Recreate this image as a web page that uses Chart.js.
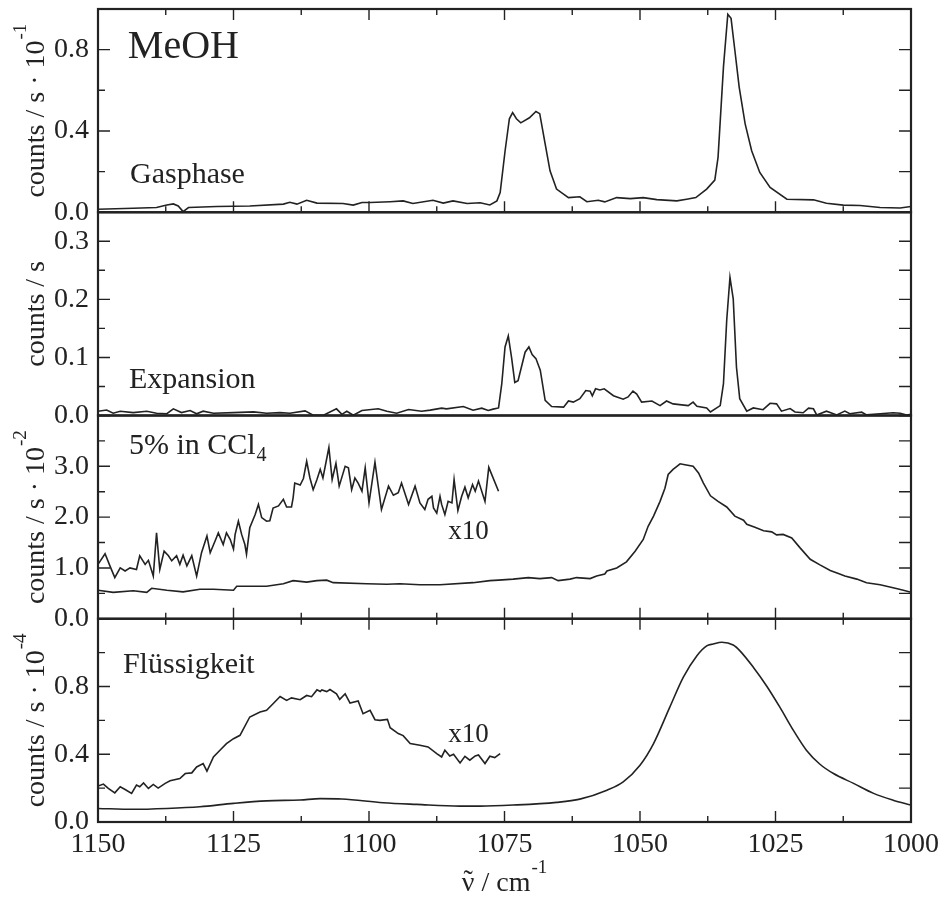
<!DOCTYPE html>
<html>
<head>
<meta charset="utf-8">
<title>MeOH spectra</title>
<script src="https://cdn.jsdelivr.net/npm/chart.js@4.4.0/dist/chart.umd.min.js"></script>
<style>
  html, body { margin: 0; padding: 0; background: #fff; }
  #wrap { width: 945px; height: 899px; }
</style>
</head>
<body>
<div id="wrap"><canvas id="spectra" width="945" height="899"></canvas></div>
<script>
// wavenumber (cm-1), signal in the units of each panel
const gasphase = [
  [1150.0, 0.015], [1143.5, 0.020], [1139.2, 0.023], [1137.3, 0.036], [1136.1, 0.041], [1135.2, 0.031],
  [1134.3, 0.003], [1133.3, 0.023], [1128.1, 0.028], [1122.0, 0.031], [1115.8, 0.040], [1114.6, 0.049],
  [1113.3, 0.040], [1111.5, 0.059], [1109.6, 0.045], [1104.8, 0.043], [1102.9, 0.035], [1101.3, 0.048],
  [1099.8, 0.048], [1096.1, 0.052], [1093.7, 0.056], [1091.9, 0.043], [1088.2, 0.059], [1086.3, 0.045],
  [1084.5, 0.056], [1081.9, 0.043], [1079.5, 0.047], [1077.7, 0.036], [1076.4, 0.056], [1075.8, 0.097],
  [1074.9, 0.300], [1074.1, 0.460], [1073.5, 0.490], [1072.8, 0.460], [1072.0, 0.440], [1070.4, 0.465],
  [1069.2, 0.496], [1068.5, 0.485], [1067.5, 0.336], [1066.6, 0.204], [1065.4, 0.114], [1063.2, 0.072],
  [1061.1, 0.076], [1059.8, 0.052], [1057.7, 0.059], [1056.5, 0.051], [1054.3, 0.072], [1051.8, 0.067],
  [1049.4, 0.072], [1046.9, 0.062], [1043.2, 0.056], [1041.4, 0.064], [1039.7, 0.072], [1037.7, 0.114],
  [1036.2, 0.158], [1035.6, 0.270], [1034.6, 0.715], [1033.8, 0.974], [1033.2, 0.954], [1032.5, 0.797],
  [1031.7, 0.616], [1030.6, 0.435], [1029.4, 0.303], [1027.9, 0.196], [1026.0, 0.122], [1022.9, 0.064],
  [1018.0, 0.061], [1015.6, 0.044], [1012.5, 0.035], [1009.4, 0.033], [1005.7, 0.023], [1002.0, 0.021],
  [1000.0, 0.028]
];

const expansion = [
  [1150.0, 0.0074], [1148.4, 0.0095], [1147.2, 0.0040], [1145.9, 0.0074], [1143.5, 0.0050], [1141.0, 0.0074],
  [1139.2, 0.0040], [1137.3, 0.0030], [1136.1, 0.0115], [1134.6, 0.0050], [1133.0, 0.0086], [1131.8, 0.0030],
  [1130.6, 0.0074], [1128.7, 0.0040], [1125.0, 0.0050], [1121.3, 0.0063], [1118.9, 0.0040], [1116.4, 0.0050],
  [1114.6, 0.0040], [1111.8, 0.0080], [1110.3, 0.0005], [1108.4, 0.0005], [1106.0, 0.0115], [1105.0, 0.0020],
  [1104.1, 0.0074], [1102.9, 0.0005], [1101.3, 0.0086], [1098.3, 0.0115], [1096.7, 0.0074], [1094.9, 0.0040],
  [1092.7, 0.0103], [1090.3, 0.0074], [1088.7, 0.0092], [1086.6, 0.0126], [1085.7, 0.0115], [1082.6, 0.0155],
  [1080.8, 0.0092], [1079.2, 0.0126], [1078.0, 0.0086], [1077.1, 0.0110], [1076.1, 0.0130], [1075.5, 0.055],
  [1074.9, 0.118], [1074.3, 0.137], [1073.7, 0.100], [1073.1, 0.057], [1072.5, 0.060], [1071.2, 0.109],
  [1070.5, 0.118], [1069.9, 0.105], [1069.2, 0.098], [1068.4, 0.078], [1067.5, 0.026], [1066.3, 0.0155],
  [1064.1, 0.0144], [1063.2, 0.025], [1062.3, 0.023], [1061.1, 0.029], [1060.0, 0.043], [1059.2, 0.042],
  [1058.8, 0.034], [1058.2, 0.046], [1057.4, 0.044], [1056.6, 0.046], [1054.9, 0.034], [1053.1, 0.028],
  [1052.2, 0.032], [1051.3, 0.042], [1050.6, 0.037], [1049.7, 0.023], [1047.8, 0.025], [1046.3, 0.017],
  [1045.1, 0.025], [1043.9, 0.020], [1041.1, 0.017], [1040.2, 0.023], [1039.5, 0.016], [1037.7, 0.013],
  [1037.0, 0.006], [1035.2, 0.017], [1034.6, 0.055], [1034.0, 0.164], [1033.4, 0.238], [1032.8, 0.201],
  [1032.2, 0.083], [1031.6, 0.029], [1030.3, 0.0075], [1029.1, 0.013], [1027.3, 0.010], [1026.0, 0.021],
  [1024.8, 0.020], [1023.9, 0.0075], [1022.3, 0.012], [1021.4, 0.006], [1019.9, 0.0047], [1018.9, 0.0126],
  [1018.0, 0.0115], [1017.4, 0.001], [1015.6, 0.0075], [1013.7, 0.001], [1012.2, 0.0075], [1011.3, 0.003],
  [1009.1, 0.0057], [1008.2, 0.001], [1005.7, 0.003], [1003.3, 0.0047], [1002.0, 0.004], [1000.8, 0.001],
  [1000.0, 0.002]
];

const ccl4 = [
  [1150.0, 0.56], [1147.2, 0.52], [1143.5, 0.55], [1141.0, 0.52], [1140.1, 0.60], [1137.3, 0.56],
  [1134.3, 0.53], [1131.2, 0.58], [1128.7, 0.58], [1125.0, 0.56], [1124.4, 0.64], [1122.0, 0.64],
  [1118.9, 0.64], [1115.8, 0.69], [1114.0, 0.75], [1111.5, 0.72], [1109.6, 0.75], [1107.8, 0.76],
  [1106.6, 0.71], [1100.4, 0.69], [1096.7, 0.68], [1094.3, 0.69], [1090.6, 0.67], [1086.9, 0.67],
  [1080.8, 0.71], [1077.7, 0.75], [1076.1, 0.76], [1073.4, 0.78], [1070.6, 0.81], [1068.5, 0.79],
  [1066.3, 0.81], [1065.1, 0.75], [1062.9, 0.78], [1061.7, 0.81], [1059.2, 0.79], [1058.0, 0.84],
  [1056.5, 0.88], [1056.1, 0.94], [1054.3, 1.00], [1052.5, 1.12], [1050.9, 1.33], [1049.4, 1.56],
  [1048.5, 1.82], [1047.5, 2.02], [1046.3, 2.31], [1045.4, 2.57], [1044.8, 2.84], [1043.9, 2.94],
  [1042.6, 3.05], [1041.7, 3.03], [1040.2, 3.00], [1039.2, 2.87], [1038.3, 2.67], [1037.0, 2.42],
  [1035.6, 2.31], [1034.0, 2.20], [1032.5, 2.02], [1030.9, 1.94], [1030.3, 1.86], [1028.8, 1.80],
  [1027.2, 1.73], [1025.7, 1.71], [1024.8, 1.65], [1023.6, 1.66], [1022.0, 1.59], [1020.5, 1.40],
  [1018.6, 1.17], [1016.8, 1.06], [1014.9, 0.95], [1013.4, 0.89], [1012.2, 0.84], [1010.0, 0.78],
  [1008.2, 0.71], [1005.7, 0.67], [1003.3, 0.61], [1001.4, 0.56], [1000.0, 0.52]
];

// same CCl4 solution, tenfold magnified
const ccl4x10 = [
  [1150.0, 1.07], [1148.7, 1.28], [1147.8, 1.04], [1146.9, 0.81], [1145.9, 1.00], [1145.0, 0.94],
  [1144.1, 1.00], [1142.9, 0.97], [1142.3, 1.24], [1141.3, 1.07], [1140.7, 1.15], [1139.8, 0.84],
  [1139.2, 1.69], [1138.6, 0.97], [1137.8, 1.33], [1137.0, 1.24], [1136.4, 1.14], [1135.5, 1.24],
  [1134.9, 1.07], [1134.3, 1.25], [1133.6, 1.04], [1132.7, 1.24], [1131.8, 0.84], [1130.9, 1.30],
  [1129.9, 1.63], [1129.3, 1.30], [1128.4, 1.53], [1127.8, 1.69], [1126.9, 1.46], [1126.3, 1.69],
  [1125.6, 1.56], [1125.0, 1.37], [1124.7, 1.66], [1124.1, 1.92], [1123.5, 1.66], [1122.9, 1.46],
  [1122.6, 1.27], [1122.0, 1.79], [1121.0, 2.05], [1120.4, 2.25], [1119.8, 1.99], [1118.9, 1.92],
  [1118.3, 1.93], [1117.7, 2.18], [1116.7, 2.22], [1115.8, 2.35], [1115.2, 2.20], [1114.3, 2.20],
  [1114.0, 2.38], [1113.7, 2.67], [1112.7, 2.63], [1112.1, 2.76], [1111.5, 3.10], [1110.9, 2.77],
  [1110.3, 2.54], [1109.6, 2.74], [1109.0, 2.94], [1108.5, 2.77], [1107.4, 3.37], [1106.8, 2.74],
  [1106.1, 3.06], [1105.5, 2.61], [1104.4, 3.00], [1103.8, 2.97], [1103.2, 2.54], [1102.6, 2.77],
  [1102.0, 2.67], [1101.3, 2.51], [1100.7, 2.97], [1100.0, 2.28], [1098.9, 3.08], [1097.7, 2.15],
  [1096.4, 2.61], [1095.5, 2.43], [1094.6, 2.48], [1094.0, 2.67], [1092.7, 2.25], [1091.5, 2.61],
  [1090.6, 2.28], [1089.7, 2.15], [1089.1, 2.35], [1088.4, 2.41], [1088.1, 2.18], [1087.5, 2.08],
  [1086.9, 2.41], [1086.6, 2.25], [1086.0, 2.05], [1085.4, 2.31], [1084.7, 2.28], [1084.3, 2.74],
  [1083.6, 2.13], [1082.9, 2.41], [1082.3, 2.59], [1081.7, 2.38], [1080.9, 2.64], [1080.4, 2.51],
  [1079.8, 2.71], [1078.6, 2.31], [1077.9, 2.98], [1076.1, 2.51]
];

const liquid = [
  [1150.0, 0.080], [1143.5, 0.075], [1137.3, 0.080], [1131.2, 0.090], [1125.0, 0.110], [1118.9, 0.125],
  [1112.7, 0.130], [1109.0, 0.138], [1105.0, 0.136], [1097.4, 0.114], [1091.2, 0.104], [1083.2, 0.094],
  [1079.5, 0.094], [1073.4, 0.100], [1065.4, 0.116], [1061.1, 0.135], [1056.1, 0.188], [1053.1, 0.237],
  [1050.0, 0.335], [1047.5, 0.463], [1044.5, 0.678], [1042.0, 0.855], [1039.5, 0.982], [1037.7, 1.040],
  [1036.5, 1.051], [1034.9, 1.061], [1032.8, 1.045], [1031.6, 1.012], [1029.1, 0.914], [1026.7, 0.806],
  [1024.2, 0.678], [1021.7, 0.541], [1019.3, 0.424], [1016.8, 0.341], [1014.3, 0.286], [1010.6, 0.228],
  [1006.9, 0.169], [1003.3, 0.129], [1000.0, 0.100]
];

// liquid methanol, tenfold magnified
const liquidx10 = [
  [1150.0, 0.212], [1149.0, 0.224], [1148.1, 0.198], [1146.9, 0.172], [1145.9, 0.208], [1145.0, 0.192],
  [1143.8, 0.169], [1142.9, 0.218], [1142.3, 0.208], [1141.6, 0.231], [1140.7, 0.198], [1139.8, 0.222],
  [1138.9, 0.200], [1137.6, 0.228], [1136.7, 0.243], [1134.9, 0.257], [1133.9, 0.286], [1132.7, 0.290],
  [1131.8, 0.325], [1130.6, 0.345], [1129.9, 0.300], [1128.7, 0.384], [1127.5, 0.424], [1126.3, 0.463],
  [1125.0, 0.492], [1123.8, 0.512], [1122.0, 0.620], [1120.1, 0.649], [1118.9, 0.659], [1117.7, 0.698],
  [1116.4, 0.741], [1115.2, 0.718], [1114.3, 0.733], [1112.7, 0.722], [1111.5, 0.747], [1110.6, 0.740],
  [1109.6, 0.780], [1109.0, 0.770], [1108.7, 0.780], [1107.8, 0.770], [1107.2, 0.782], [1106.0, 0.757],
  [1105.4, 0.724], [1104.4, 0.757], [1103.5, 0.702], [1102.0, 0.714], [1101.1, 0.639], [1099.8, 0.659],
  [1098.9, 0.604], [1098.0, 0.600], [1096.6, 0.606], [1096.1, 0.557], [1094.6, 0.522], [1093.7, 0.510],
  [1092.4, 0.463], [1090.6, 0.453], [1089.1, 0.443], [1087.5, 0.404], [1086.6, 0.384], [1086.0, 0.424],
  [1085.1, 0.390], [1084.4, 0.400], [1083.2, 0.349], [1082.3, 0.388], [1081.4, 0.365], [1080.4, 0.390],
  [1079.8, 0.396], [1079.2, 0.370], [1078.6, 0.345], [1077.7, 0.388], [1076.8, 0.380], [1075.8, 0.404]
];

const xMin = 1000, xMax = 1150, xStep = 12.5, xLabelStep = 25;

const ink = '#222';
const serif = "'Liberation Serif', 'Times New Roman', serif";

// one stacked y axis per sample, top to bottom
const panels = [
  { id: 'yGas', max: 1.0,  step: 0.2,  labelStep: 0.4, unit: 'counts / s \u00b7 10', exp: '-1', topTicks: true,  bottomTicks: true },
  { id: 'yExp', max: 0.35, step: 0.05, labelStep: 0.1, unit: 'counts / s',           exp: '',   topTicks: false, bottomTicks: false },
  { id: 'yCcl', max: 4.0,  step: 0.5,  labelStep: 1.0, unit: 'counts / s \u00b7 10', exp: '-2', topTicks: false, bottomTicks: true },
  { id: 'yLiq', max: 1.2,  step: 0.2,  labelStep: 0.4, unit: 'counts / s \u00b7 10', exp: '-4', topTicks: true,  bottomTicks: true }
];

const notes = [
  { axis: 'yGas', x: 1144.5, y: 0.76,  text: 'MeOH', size: 40 },
  { axis: 'yGas', x: 1144.1, y: 0.145, text: 'Gasphase', size: 30 },
  { axis: 'yExp', x: 1144.3, y: 0.047, text: 'Expansion', size: 30 },
  { axis: 'yCcl', x: 1144.3, y: 3.24,  text: '5% in CCl', sub: '4', size: 30 },
  { axis: 'yCcl', x: 1085.4, y: 1.57,  text: 'x10', size: 27 },
  { axis: 'yLiq', x: 1145.4, y: 0.88,  text: 'Fl\u00fcssigkeit', size: 30 },
  { axis: 'yLiq', x: 1085.4, y: 0.47,  text: 'x10', size: 27 }
];

const onStep = (v, s) => Math.abs(v / s - Math.round(v / s)) < 1e-6;
const toXY = arr => arr.map(([x, y]) => ({ x: x, y: y }));

function line(data, axis, smooth) {
  return {
    data: toXY(data),
    yAxisID: axis,
    borderColor: ink,
    borderWidth: 1.6,
    pointRadius: 0,
    fill: false,
    tension: 0,
    cubicInterpolationMode: smooth ? 'monotone' : 'default'
  };
}

// frames and inward tick marks for every panel
const frames = {
  id: 'frames',
  afterDatasetsDraw(chart) {
    const { ctx, scales } = chart;
    const xs = scales.x;
    ctx.save();
    ctx.strokeStyle = ink;
    panels.forEach(p => {
      const ys = scales[p.id];
      const L = xs.left, R = xs.right, T = ys.top, B = ys.bottom;
      ctx.lineWidth = 1.4;
      ctx.beginPath();
      ys.ticks.forEach(t => {
        const py = ys.getPixelForValue(t.value);
        const len = onStep(t.value, p.labelStep) ? 12 : 7;
        ctx.moveTo(L, py); ctx.lineTo(L + len, py);
        ctx.moveTo(R, py); ctx.lineTo(R - 12, py);
      });
      xs.ticks.forEach(t => {
        const px = xs.getPixelForValue(t.value);
        const len = onStep(t.value, xLabelStep) ? 11 : 6;
        if (p.topTicks) { ctx.moveTo(px, T); ctx.lineTo(px, T + len); }
        if (p.bottomTicks) { ctx.moveTo(px, B); ctx.lineTo(px, B - len); }
      });
      ctx.stroke();
      ctx.lineWidth = 2.2;
      ctx.strokeRect(L, T, R - L, B - T);
    });
    ctx.restore();
  }
};

// axis titles with exponents, and the sample labels
const captions = {
  id: 'captions',
  afterDraw(chart) {
    const { ctx, scales } = chart;
    const xs = scales.x;
    ctx.save();
    ctx.fillStyle = ink;
    ctx.textBaseline = 'alphabetic';
    ctx.textAlign = 'left';

    panels.forEach(p => {
      const ys = scales[p.id];
      const mid = (ys.top + ys.bottom) / 2;
      ctx.save();
      ctx.translate(44, mid);
      ctx.rotate(-Math.PI / 2);
      ctx.font = '28px ' + serif;
      const wMain = ctx.measureText(p.unit).width;
      ctx.font = '19px ' + serif;
      const wExp = p.exp ? ctx.measureText(p.exp).width + 1 : 0;
      const x0 = -(wMain + wExp) / 2;
      ctx.font = '28px ' + serif;
      ctx.fillText(p.unit, x0, 0);
      if (p.exp) {
        ctx.font = '19px ' + serif;
        ctx.fillText(p.exp, x0 + wMain + 1, -18);
      }
      ctx.restore();
    });

    // wavenumber axis title
    const cx = (xs.left + xs.right) / 2;
    const base = 891;
    ctx.font = '28px ' + serif;
    const nu = '\u03bd';
    const rest = ' / cm';
    const wNu = ctx.measureText(nu).width;
    const wRest = ctx.measureText(rest).width;
    ctx.font = '19px ' + serif;
    const wExp = ctx.measureText('-1').width;
    let x0 = cx - (wNu + wRest + wExp + 1) / 2;
    ctx.font = '28px ' + serif;
    ctx.fillText(nu, x0, base);
    ctx.textAlign = 'center';
    ctx.fillText('\u02dc', x0 + wNu / 2, base - 2);
    ctx.textAlign = 'left';
    ctx.fillText(rest, x0 + wNu, base);
    ctx.font = '19px ' + serif;
    ctx.fillText('-1', x0 + wNu + wRest + 1, base - 18);

    notes.forEach(n => {
      const px = xs.getPixelForValue(n.x);
      const py = scales[n.axis].getPixelForValue(n.y);
      ctx.font = n.size + 'px ' + serif;
      ctx.fillText(n.text, px, py);
      if (n.sub) {
        const w = ctx.measureText(n.text).width;
        ctx.font = Math.round(n.size * 0.68) + 'px ' + serif;
        ctx.fillText(n.sub, px + w + 1, py + 7);
      }
    });
    ctx.restore();
  }
};

const yScales = {};
// stacked left axes are placed top-down in reverse definition order
panels.slice().reverse().forEach(p => {
  yScales[p.id] = {
    type: 'linear',
    position: 'left',
    stack: 'panels',
    stackWeight: 1,
    min: 0,
    max: p.max,
    grid: { display: false, drawTicks: false },
    border: { display: false },
    ticks: {
      stepSize: p.step,
      autoSkip: false,
      padding: 9,
      color: ink,
      font: { size: 28, family: serif },
      callback: v => (onStep(v, p.labelStep) && v < p.max - 1e-9) ? v.toFixed(1) : ''
    },
    afterFit: s => {
      s.width = 98;
      s.paddingTop = 0;
      s.paddingBottom = 0;
    }
  };
});

new Chart(document.getElementById('spectra'), {
  type: 'line',
  data: {
    datasets: [
      line(gasphase, 'yGas'),
      line(expansion, 'yExp'),
      line(ccl4, 'yCcl'),
      line(ccl4x10, 'yCcl'),
      line(liquid, 'yLiq', true),
      line(liquidx10, 'yLiq')
    ]
  },
  options: {
    responsive: false,
    devicePixelRatio: 1,
    animation: false,
    layout: { padding: { top: 9, right: 34, left: 0, bottom: 0 } },
    scales: Object.assign({
      x: {
        type: 'linear',
        reverse: true,
        min: xMin,
        max: xMax,
        grid: { display: false, drawTicks: false },
        border: { display: false },
        ticks: {
          stepSize: xStep,
          autoSkip: false,
          maxRotation: 0,
          padding: 6,
          color: ink,
          font: { size: 28, family: serif },
          callback: v => onStep(v, xLabelStep) ? String(v) : ''
        },
        afterFit: s => { s.height = 77; }
      }
    }, yScales),
    plugins: {
      legend: { display: false },
      tooltip: { enabled: false }
    }
  },
  plugins: [frames, captions]
});
</script>
</body>
</html>
